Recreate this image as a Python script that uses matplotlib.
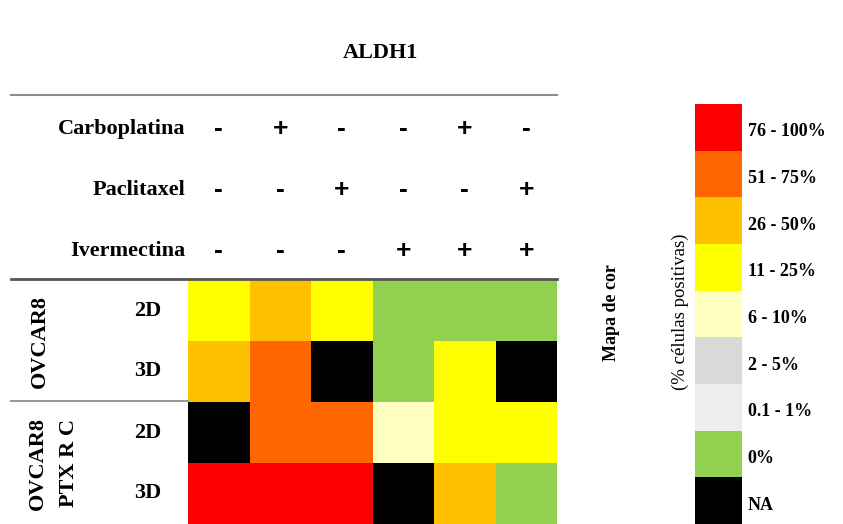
import numpy as np
import matplotlib.pyplot as plt
from matplotlib.colors import ListedColormap, BoundaryNorm
from matplotlib.lines import Line2D

plt.rcParams['font.family'] = ['Liberation Serif', 'DejaVu Serif']

W, H = 843, 524

# treatment combinations (1 = present, 0 = absent)
treatments = ['Carboplatina', 'Paclitaxel', 'Ivermectina']
carboplatina = [0, 1, 0, 0, 1, 0]
paclitaxel = [0, 0, 1, 0, 0, 1]
ivermectina = [0, 0, 0, 1, 1, 1]

cell_lines = ['OVCAR8', 'OVCAR8\nPTX R C']
cultures = ['2D', '3D']

# class index: 0 NA, 1 0%, 2 0.1-1%, 3 2-5%, 4 6-10%, 5 11-25%, 6 26-50%, 7 51-75%, 8 76-100%
ovcar8_2d = [5, 6, 5, 1, 1, 1]
ovcar8_3d = [6, 7, 0, 1, 5, 0]
ptxrc_2d = [0, 7, 7, 4, 5, 5]
ptxrc_3d = [8, 8, 8, 0, 6, 1]

legend_labels = ['NA', '0%', '0.1 - 1%', '2 - 5%', '6 - 10%',
                 '11 - 25%', '26 - 50%', '51 - 75%', '76 - 100%']
legend_colors = ['#000000', '#92D050', '#EDEDED', '#D9D9D9', '#FFFFC0',
                 '#FFFF00', '#FFC000', '#FF6600', '#FF0000']

cmap = ListedColormap(legend_colors)
norm = BoundaryNorm(np.arange(-0.5, 9.5, 1), cmap.N)


def px_axes(fig, l, t, r, b):
	return fig.add_axes([l / W, 1 - b / H, (r - l) / W, (b - t) / H])


def hline(fig, y, x0, x1, color, lw):
	fig.add_artist(Line2D([x0 / W, x1 / W], [1 - y / H, 1 - y / H],
	                      transform=fig.transFigure, color=color, lw=lw))


fig = plt.figure(figsize=(W / 100, H / 100), dpi=100)

fig.text(380 / W, 1 - 53 / H, 'ALDH1', ha='center', va='center',
         fontsize=16, fontweight='bold')
hline(fig, 95, 11, 557, '#8a8a8a', 1.5)
hline(fig, 279, 11, 557, '#555555', 2.0)
hline(fig, 401, 11, 188, '#9a9a9a', 1.5)

# drug +/- table
ax_t = px_axes(fig, 188, 95, 557, 279)
ax_t.set_xlim(0, 6)
ax_t.set_ylim(3, 0)
ax_t.axis('off')
for i, (name, row) in enumerate(zip(treatments, [carboplatina, paclitaxel, ivermectina])):
	ax_t.text(-0.05, i + 0.55, name, ha='right', va='center',
	          fontsize=16, fontweight='bold')
	for j, v in enumerate(row):
		ax_t.text(j + 0.5, i + 0.55, '+' if v else '-', ha='center', va='center',
		          fontsize=19, fontweight='bold', family='Liberation Sans')

# heatmap
grid = np.array([ovcar8_2d, ovcar8_3d, ptxrc_2d, ptxrc_3d])
ax = px_axes(fig, 188, 280, 557, 524)
ax.pcolormesh(np.arange(7), np.arange(5), grid, cmap=cmap, norm=norm)
ax.set_xlim(0, 6)
ax.set_ylim(4, 0)
ax.axis('off')

# row labels
ax_l = px_axes(fig, 11, 280, 188, 524)
ax_l.set_xlim(11, 188)
ax_l.set_ylim(4, 0)
ax_l.axis('off')
for k, name in enumerate(cell_lines):
	ax_l.text(53 if '\n' in name else 40, 2 * k + 1, name, rotation=90,
	          ha='center', va='center', fontsize=16, fontweight='bold',
	          linespacing=1.75)
	for m, c in enumerate(cultures):
		ax_l.text(148, 2 * k + m + 0.5, c, ha='center', va='center',
		          fontsize=16, fontweight='bold')

# colour key
ax_c = px_axes(fig, 695, 104, 742, 524)
ax_c.pcolormesh(np.arange(2), np.arange(10), np.arange(9).reshape(-1, 1),
                cmap=cmap, norm=norm)
ax_c.set_xlim(0, 1)
ax_c.set_ylim(0, 9)
ax_c.set_xticks([])
ax_c.yaxis.tick_right()
ax_c.set_yticks(np.arange(9) + 0.45)
ax_c.set_yticklabels(legend_labels, fontsize=13, fontweight='bold')
ax_c.tick_params(axis='y', length=0, pad=4)
for s in ax_c.spines.values():
	s.set_visible(False)

fig.text(612 / W, 1 - 313 / H, 'Mapa de cor', rotation=90, ha='center',
         va='center', fontsize=13, fontweight='bold')
fig.text(680 / W, 1 - 312 / H, '(% células positivas)', rotation=90,
         ha='center', va='center', fontsize=13.5)

fig.savefig('out.png', dpi=100)
